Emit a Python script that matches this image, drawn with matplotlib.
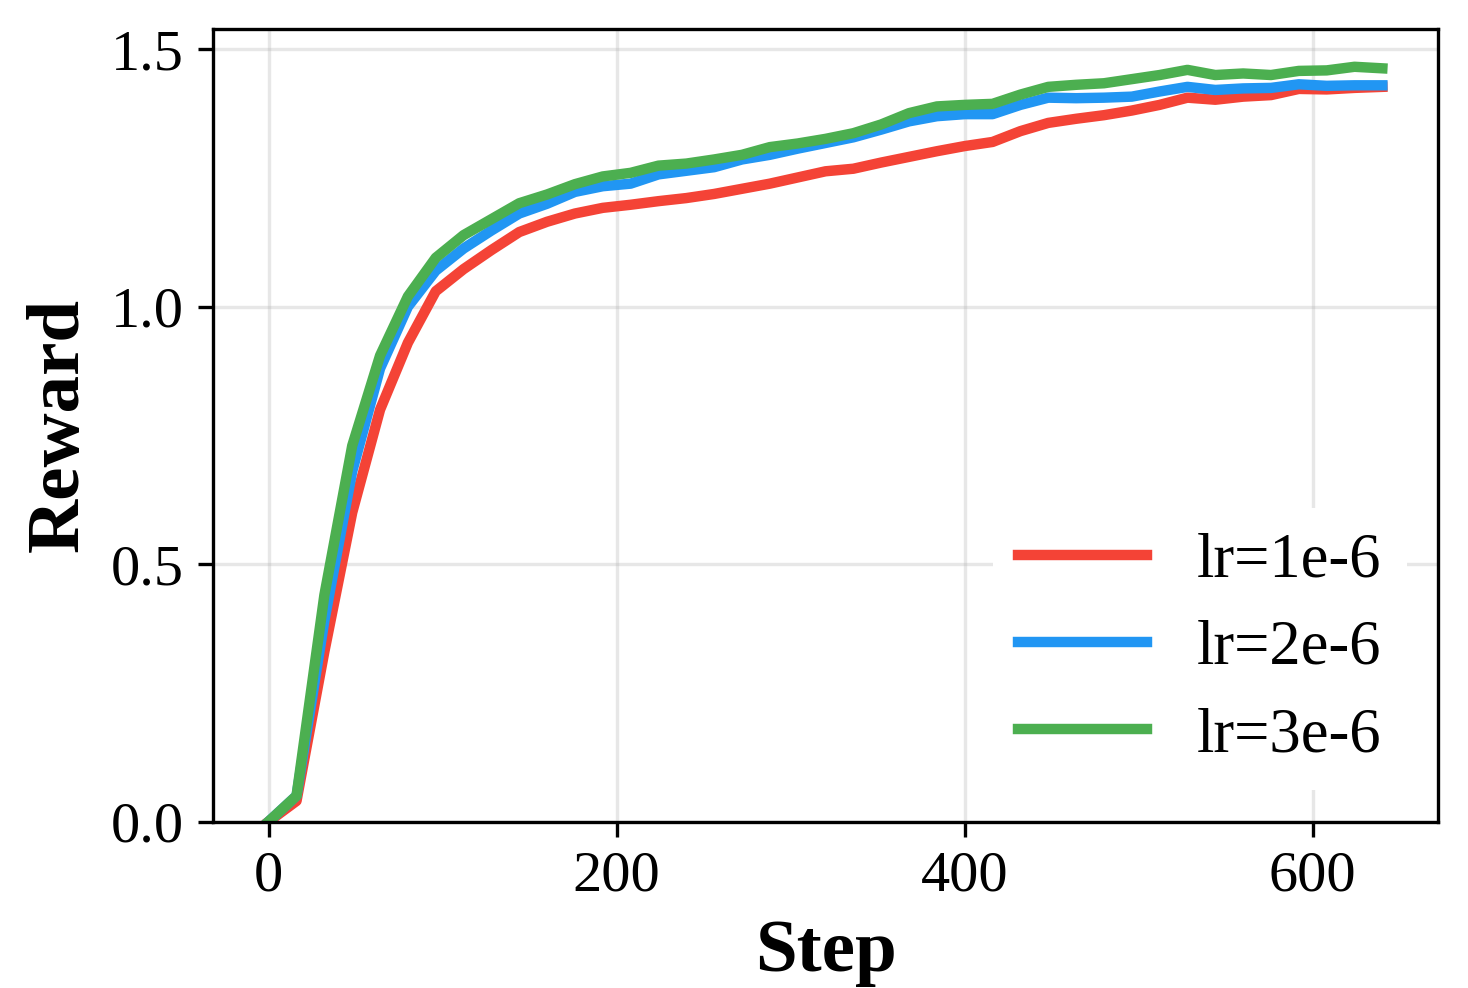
import matplotlib
matplotlib.use("Agg")
import matplotlib.pyplot as plt

# training steps (logged every 16 steps)
steps = list(range(0, 641, 16))

# reward curves
reward_lr1 = [0.0, 0.04, 0.33, 0.60, 0.80, 0.93, 1.03, 1.073, 1.110, 1.145,
              1.165, 1.181, 1.192, 1.198, 1.205, 1.211, 1.219, 1.229, 1.239, 1.251,
              1.263, 1.268, 1.280, 1.291, 1.302, 1.312, 1.320, 1.341, 1.357, 1.365,
              1.372, 1.381, 1.392, 1.406, 1.402, 1.408, 1.411, 1.423, 1.422, 1.425,
              1.427]
reward_lr2 = [0.0, 0.05, 0.39, 0.68, 0.88, 1.00, 1.07, 1.113, 1.148, 1.181,
              1.200, 1.223, 1.234, 1.239, 1.257, 1.264, 1.271, 1.286, 1.295, 1.307,
              1.318, 1.329, 1.344, 1.360, 1.370, 1.374, 1.374, 1.392, 1.406, 1.405,
              1.406, 1.408, 1.418, 1.427, 1.421, 1.424, 1.425, 1.432, 1.429, 1.430,
              1.430]
reward_lr3 = [0.0, 0.05, 0.44, 0.73, 0.905, 1.02, 1.095, 1.139, 1.170, 1.201,
              1.218, 1.238, 1.253, 1.260, 1.274, 1.278, 1.286, 1.295, 1.310, 1.317,
              1.326, 1.337, 1.354, 1.376, 1.389, 1.392, 1.394, 1.412, 1.427, 1.431,
              1.434, 1.442, 1.450, 1.460, 1.450, 1.453, 1.450, 1.458, 1.459, 1.466,
              1.463]

labels = ['lr=1e-6', 'lr=2e-6', 'lr=3e-6']
colors = ['#F44336', '#2196F3', '#4CAF50']

plt.rcParams['font.family'] = ['Liberation Serif', 'DejaVu Serif']

fig = plt.figure(figsize=(1468 / 300, 988 / 300), dpi=300)
ax = fig.add_subplot(111)
fig.subplots_adjust(left=0.1451, right=0.9796, bottom=0.1685, top=0.9706)

for ys, lab, col in zip([reward_lr1, reward_lr2, reward_lr3], labels, colors):
    ax.plot(steps, ys, color=col, linewidth=2.5, label=lab)

ax.set_ylim(bottom=0)
ax.set_yticks([0.0, 0.5, 1.0, 1.5])
ax.set_xticks([0, 200, 400, 600])
ax.grid(True, alpha=0.3)
ax.tick_params(labelsize=14)

ax.set_xlabel('Step', fontsize=18, fontweight='bold')
ax.set_ylabel('Reward', fontsize=18, fontweight='bold')

# white box without edge, sits over the grid
leg = ax.legend(loc='lower right', fontsize=15, handlelength=2.06,
                labelspacing=0.47, borderaxespad=0.5,
                frameon=True, framealpha=1.0, fancybox=False)
leg.get_frame().set_edgecolor('none')

plt.savefig('out.png', dpi=300)
